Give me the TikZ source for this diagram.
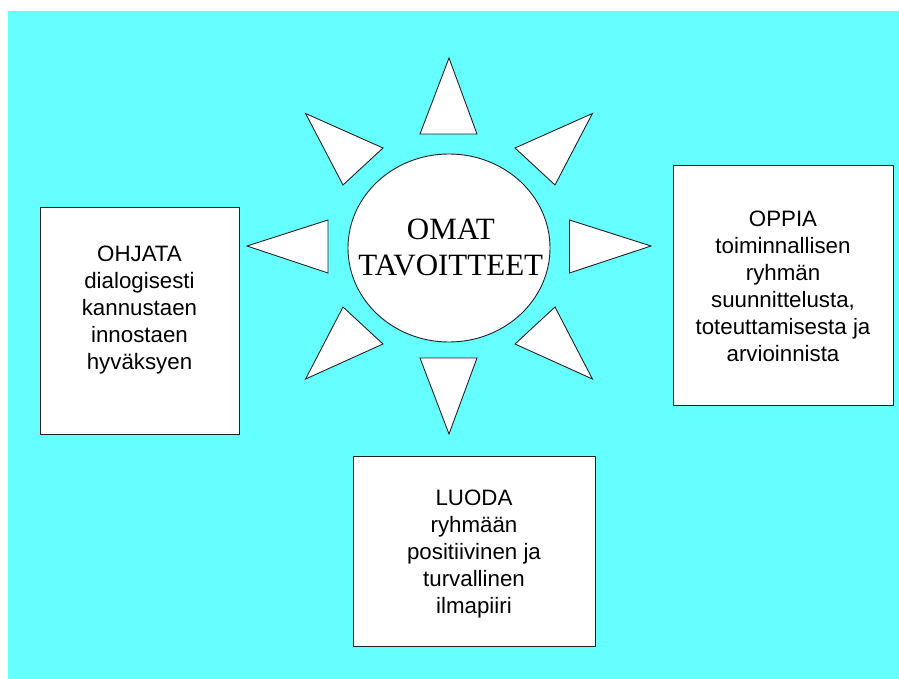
\documentclass[tikz,border=0pt]{standalone}
\usepackage{fontspec}
\setmainfont{Liberation Serif}
\newfontfamily\boxfont{Liberation Sans}
\usetikzlibrary{shapes.geometric}
\definecolor{bgcyan}{HTML}{66FFFF}
\definecolor{edge}{HTML}{222222}
\tikzset{
  box/.style={draw=edge, fill=white, line width=0.9pt, rectangle, inner sep=0pt, anchor=north west},
  ray/.style={draw=edge, fill=white, line width=0.9pt, line join=miter},
  boxtext/.style={anchor=base, inner sep=0pt, font=\boxfont\fontsize{22.3}{27}\selectfont},
  goaltext/.style={anchor=base, inner sep=0pt, font=\fontsize{31}{36}\selectfont}
}
\begin{document}
\begin{tikzpicture}[x=1pt, y=-1pt]
\useasboundingbox (0,0) rectangle (899,679);
\fill[bgcyan] (8,11) rectangle (899,679);

% rays
\draw[ray] (449,58) -- (477,134) -- (420,134) -- cycle;
\draw[ray] (449,434) -- (477,358) -- (420,358) -- cycle;
\draw[ray] (247,246) -- (328,220) -- (328,273) -- cycle;
\draw[ray] (651,246) -- (569.5,220) -- (569.5,273) -- cycle;
\draw[ray] (305.6,113.5) -- (383,148) -- (343,185) -- cycle;
\draw[ray] (592.4,113.5) -- (515,148) -- (555,185) -- cycle;
\draw[ray] (305.6,379) -- (383,344) -- (343,307) -- cycle;
\draw[ray] (592.4,379) -- (515,344) -- (555,307) -- cycle;

% centre
\node[ellipse, draw=edge, fill=white, line width=0.9pt, minimum width=202, minimum height=188, inner sep=0pt] (goal) at (449,248) {};
\node[goaltext] (goallabel) at (450.8,239.3)
  {\begin{tabular}[t]{@{}c@{}}OMAT\hspace{13.6pt}\\TAVOITTEET\end{tabular}};

% boxes
\node[box, minimum width=199, minimum height=227] (ohjata) at (40,207) {};
\node[boxtext] (ohjatatext) at (139.5,261.7)
  {\begin{tabular}[t]{@{}c@{}}OHJATA\\dialogisesti\\kannustaen\\innostaen\\hyväksyen\end{tabular}};

\node[box, minimum width=220.4, minimum height=240.4] (oppia) at (672.6,164.6) {};
\node[boxtext] (oppiatext) at (783,226.7)
  {\begin{tabular}[t]{@{}c@{}}OPPIA\\toiminnallisen\\ryhmän\\suunnittelusta,\\toteuttamisesta ja\\arvioinnista\end{tabular}};

\node[box, minimum width=242, minimum height=190.4] (luoda) at (353,455.6) {};
\node[boxtext] (luodatext) at (474,505.5)
  {\begin{tabular}[t]{@{}c@{}}LUODA\\ryhmään\\positiivinen ja\\turvallinen\\ilmapiiri\end{tabular}};
\end{tikzpicture}
\end{document}
